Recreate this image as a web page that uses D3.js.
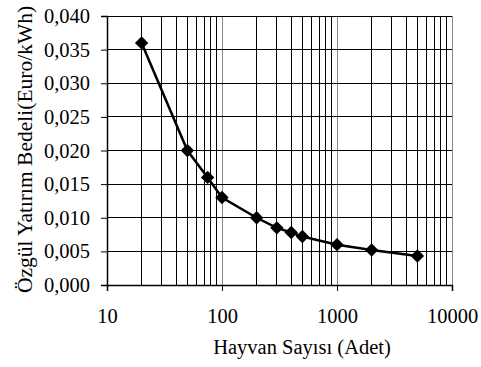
<!DOCTYPE html>
<html>
<head>
<meta charset="utf-8">
<script src="https://cdn.jsdelivr.net/npm/d3@7"></script>
</head>
<body style="margin:0;background:#fff">
<div class="vis"></div>
<script>
const hayvan = [20, 50, 75, 100, 200, 300, 400, 500, 1000, 2000, 5000];
const bedel = [0.036, 0.020, 0.016, 0.013, 0.010, 0.0085, 0.0078, 0.0072, 0.006, 0.0052, 0.0043];
const xTicks = [10, 100, 1000, 10000];
const yTicks = [0, 0.005, 0.010, 0.015, 0.020, 0.025, 0.030, 0.035, 0.040];

const FONT = "Liberation Serif";
const margin = { top: 16, right: 29, bottom: 82, left: 107 };
let width = 481 - margin.left - margin.right,
    height = 367 - margin.top - margin.bottom;

let svg = d3.select('.vis')
    .append("svg")
    .attr("width", 481)
    .attr("height", 367)
    .append("g")
    .attr("transform", "translate(" + margin.left + "," + margin.top + ")");

const xScale = d3.scaleLog().domain([10, 10000]).range([0, width]);
const yScale = d3.scaleLinear().domain([0, 0.04]).range([height, 0]);

// vertical grid at every log tick
const minor = xScale.ticks().filter(d => d > 10);
svg.append("g")
    .selectAll("line")
    .data(minor)
    .join("line")
    .attr("x1", d => xScale(d)).attr("x2", d => xScale(d))
    .attr("y1", 0).attr("y2", height)
    .attr("stroke", d => xTicks.includes(d) ? "#888" : "#000")
    .attr("stroke-width", 1)
    .attr("shape-rendering", "crispEdges");

// horizontal grid
svg.append("g")
    .selectAll("line")
    .data(yTicks.slice(1))
    .join("line")
    .attr("x1", 0).attr("x2", width)
    .attr("y1", d => yScale(d)).attr("y2", d => yScale(d))
    .attr("stroke", "#000")
    .attr("shape-rendering", "crispEdges");

const fmt = d => d3.format(".3f")(d).replace(".", ",");

svg.append("g")
    .attr("transform", "translate(0," + height + ")")
    .call(d3.axisBottom(xScale).tickValues(xTicks).tickFormat(d3.format("d")).tickSize(6).tickPadding(17))
    .call(g => g.select(".domain").attr("stroke", "#000").attr("stroke-width", 1.5));

svg.append("g")
    .call(d3.axisLeft(yScale).tickValues(yTicks).tickFormat(fmt).tickSize(6).tickPadding(11))
    .call(g => g.select(".domain").attr("stroke", "#000").attr("stroke-width", 1.5));

svg.selectAll(".tick line").attr("stroke", "#000");
svg.selectAll(".tick text").attr("fill", "#000").attr("font-family", FONT).attr("font-size", 20.5);

svg.append("text")
    .attr("x", 195)
    .attr("y", height + 69)
    .attr("text-anchor", "middle")
    .attr("font-family", FONT)
    .attr("font-size", 20.5)
    .text("Hayvan Sayısı (Adet)");

svg.append("text")
    .attr("transform", "rotate(-90)")
    .attr("x", -height / 2 + 1)
    .attr("y", -75)
    .attr("text-anchor", "middle")
    .attr("font-family", FONT)
    .attr("font-size", 21.5)
    .text("Özgül Yatırım Bedeli(Euro/kWh)");

const line = d3.line()
    .x((d, i) => xScale(hayvan[i]))
    .y(d => yScale(d));

svg.append("path")
    .datum(bedel)
    .attr("d", line)
    .attr("fill", "none")
    .attr("stroke", "#000")
    .attr("stroke-width", 2.5);

svg.append("g")
    .selectAll("path")
    .data(bedel)
    .join("path")
    .attr("d", d3.symbol(d3.symbolSquare, 90))
    .attr("transform", (d, i) => "translate(" + xScale(hayvan[i]) + "," + yScale(d) + ") rotate(45)")
    .attr("fill", "#000");
</script>
</body>
</html>
